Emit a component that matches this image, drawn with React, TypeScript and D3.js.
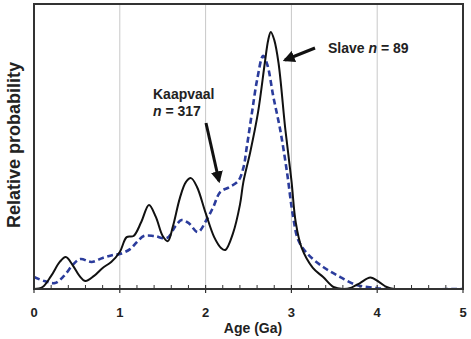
import React from "react";
import * as d3 from "d3";

// Probability density curves (age in Ga, relative probability)
const slaveAge = [0, 0.1, 0.2, 0.3, 0.37, 0.45, 0.53, 0.6, 0.7, 0.8, 0.9, 1.0, 1.08, 1.16, 1.25, 1.34, 1.42, 1.5, 1.56, 1.62, 1.7, 1.77, 1.83, 1.9, 2.0, 2.1, 2.18, 2.23, 2.32, 2.4, 2.44, 2.52, 2.61, 2.69, 2.73, 2.76, 2.8, 2.85, 2.93, 3.0, 3.05, 3.12, 3.25, 3.37, 3.49, 3.6, 3.7, 3.8, 3.92, 4.02, 4.11, 4.2, 5.0];
const slaveProb = [0, 0.007, 0.046, 0.095, 0.112, 0.084, 0.046, 0.028, 0.046, 0.074, 0.095, 0.13, 0.182, 0.186, 0.235, 0.295, 0.253, 0.186, 0.168, 0.221, 0.319, 0.375, 0.389, 0.358, 0.267, 0.182, 0.144, 0.137, 0.196, 0.295, 0.375, 0.48, 0.618, 0.793, 0.874, 0.902, 0.874, 0.793, 0.558, 0.382, 0.235, 0.144, 0.074, 0.042, 0.007, 0, 0.005, 0.021, 0.04, 0.025, 0.007, 0, 0];

const kaapvaalAge = [0, 0.12, 0.245, 0.35, 0.45, 0.54, 0.67, 0.8, 0.92, 1.0, 1.12, 1.2, 1.28, 1.4, 1.55, 1.65, 1.72, 1.8, 1.91, 2.01, 2.09, 2.17, 2.28, 2.38, 2.44, 2.48, 2.54, 2.6, 2.67, 2.72, 2.79, 2.87, 2.95, 3.02, 3.08, 3.18, 3.37, 3.57, 3.76, 3.95, 4.1, 5.0];
const kaapvaalProb = [0.042, 0.028, 0.021, 0.046, 0.084, 0.105, 0.095, 0.109, 0.119, 0.123, 0.14, 0.165, 0.186, 0.186, 0.179, 0.221, 0.242, 0.232, 0.2, 0.242, 0.288, 0.34, 0.358, 0.379, 0.425, 0.498, 0.618, 0.733, 0.818, 0.786, 0.674, 0.558, 0.407, 0.253, 0.172, 0.126, 0.077, 0.042, 0.014, 0.005, 0, 0];

const xTicks = [0, 1, 2, 3, 4, 5];
const gridTicks = [1, 2, 3, 4];

const W = 471;
const H = 339;
const left = 34;
const right = 463;
const top = 4;
const bottom = 289;

const FONT = "'Liberation Sans', Arial, Helvetica, sans-serif";

export default function App() {
  const x = d3.scaleLinear().domain([0, 5]).range([left, right]);
  const y = d3.scaleLinear().domain([0, 1]).range([bottom, top]);

  const line = d3
    .line<[number, number]>()
    .x((d) => x(d[0]))
    .y((d) => y(d[1]))
    .curve(d3.curveCatmullRom.alpha(0.5));

  const slave = slaveAge.map((a, i) => [a, slaveProb[i]] as [number, number]);
  const kaap = kaapvaalAge.map((a, i) => [a, kaapvaalProb[i]] as [number, number]);

  const minor = d3.range(0, 5.001, 0.2).filter((v) => Math.abs(v - Math.round(v)) > 1e-6);

  return (
    <svg
      width={W}
      height={H}
      style={{ position: "absolute", left: 0, top: 0, background: "#fff" }}
      fontFamily={FONT}
    >
      <defs>
        <clipPath id="plotClip">
          <rect x={left} y={top} width={right - left} height={bottom - top + 1} />
        </clipPath>
        <marker id="head" viewBox="0 0 10 10" refX="8" refY="5" markerWidth="4" markerHeight="4" orient="auto">
          <path d="M0,0 L10,5 L0,10 z" fill="#111" />
        </marker>
      </defs>

      {gridTicks.map((t) => (
        <line key={t} x1={x(t)} x2={x(t)} y1={top} y2={bottom} stroke="#c8c8c8" strokeWidth={1} />
      ))}

      <g clipPath="url(#plotClip)">
        <path d={line(kaap) ?? ""} fill="none" stroke="#2b3c9c" strokeWidth={2.6} strokeDasharray="6,3.5" />
        <path d={line(slave) ?? ""} fill="none" stroke="#111" strokeWidth={2} />
      </g>

      {/* frame */}
      <rect x={left} y={top} width={right - left} height={bottom - top} fill="none" stroke="#333" strokeWidth={2} />

      {/* ticks */}
      {minor.map((t) => (
        <line key={"m" + t} x1={x(t)} x2={x(t)} y1={bottom} y2={bottom - 4} stroke="#333" strokeWidth={1} />
      ))}
      {xTicks.map((t) => (
        <line key={"M" + t} x1={x(t)} x2={x(t)} y1={bottom - 4} y2={bottom + 4} stroke="#333" strokeWidth={1.2} />
      ))}
      {xTicks.map((t) => (
        <text key={"l" + t} x={x(t)} y={317} textAnchor="middle" fontSize={13} fontWeight="bold" fill="#222">
          {t}
        </text>
      ))}
      <text x={253} y={333} textAnchor="middle" fontSize={14} fontWeight="bold" fill="#222">
        Age (Ga)
      </text>
      <text
        transform={`translate(20,145) rotate(-90)`}
        textAnchor="middle"
        fontSize={18}
        fontWeight="bold"
        fill="#222"
      >
        Relative probability
      </text>

      {/* annotations */}
      <text x={153} y={99} fontSize={14} fontWeight="bold" fill="#222">Kaapvaal</text>
      <text x={153} y={116} fontSize={14} fontWeight="bold" fill="#222">
        <tspan fontStyle="italic">n</tspan> = 317
      </text>
      <line x1={206} y1={123} x2={219} y2={181} stroke="#111" strokeWidth={3} markerEnd="url(#head)" />

      <text x={328} y={53} fontSize={14} fontWeight="bold" fill="#222">
        Slave <tspan fontStyle="italic">n</tspan> = 89
      </text>
      <line x1={315} y1={48} x2={285} y2={60} stroke="#111" strokeWidth={3} markerEnd="url(#head)" />
    </svg>
  );
}
